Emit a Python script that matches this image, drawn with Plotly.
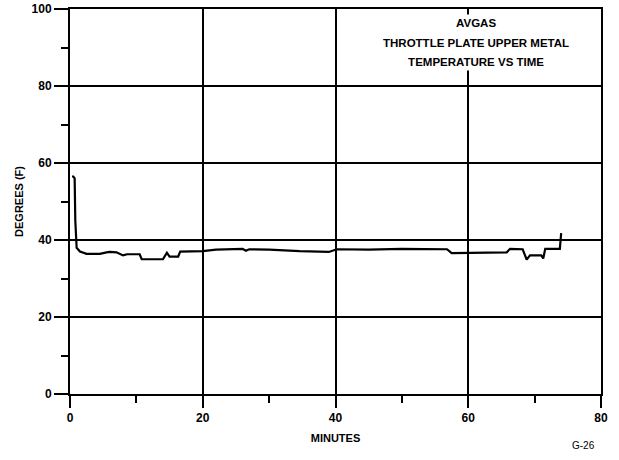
import plotly.graph_objects as go

minutes = [0.3, 0.5, 0.7, 0.8, 1.0, 1.5, 2.5, 4.5, 5.5, 6.0, 7.0, 7.5, 8.0, 8.6, 10.5, 10.8, 14.0, 14.6, 15.0, 16.3, 16.6, 20.0, 22.0, 26.0, 26.5, 27.0, 30.0, 34.6, 39.0, 40.2, 45.0, 50.0, 56.8, 57.5, 60.0, 65.8, 66.3, 68.2, 68.8, 69.3, 71.0, 71.3, 71.6, 73.5, 73.8, 74.0]
degrees = [56.5, 56.5, 56.0, 45.0, 38.0, 37.0, 36.4, 36.4, 36.8, 36.9, 36.8, 36.5, 36.0, 36.3, 36.3, 35.0, 35.0, 36.7, 35.7, 35.7, 37.0, 37.1, 37.5, 37.7, 37.2, 37.6, 37.5, 37.1, 36.9, 37.6, 37.5, 37.7, 37.6, 36.6, 36.7, 36.8, 37.7, 37.6, 34.9, 36.0, 36.0, 35.2, 37.7, 37.7, 37.7, 41.8]

x_ticks = [0, 20, 40, 60, 80]
y_ticks = [0, 20, 40, 60, 80, 100]
title_lines = ["AVGAS", "THROTTLE PLATE UPPER METAL", "TEMPERATURE VS TIME"]

FONT = "Liberation Sans Narrow, Arial Narrow, Liberation Sans, Arial"

fig = go.Figure()
fig.add_trace(go.Scatter(x=minutes, y=degrees, mode="lines",
                         line=dict(color="black", width=2.2), showlegend=False,
                         hoverinfo="skip"))

axis_common = dict(
    showgrid=True, gridcolor="black", gridwidth=1.7,
    showline=True, linecolor="black", linewidth=2, mirror=True,
    ticks="outside", tickcolor="black", tickwidth=1.7,
    zeroline=False, automargin=False,
    tickfont=dict(family=FONT, size=12, color="black", weight="bold"),
)

fig.update_xaxes(range=[0, 80], tickvals=x_ticks, ticklen=12,
                 minor=dict(dtick=10, ticks="outside", ticklen=7, tickcolor="black", tickwidth=1.5, showgrid=False),
                 title=dict(text="MINUTES", font=dict(family=FONT, size=11, color="black", weight="bold"), standoff=10),
                 **axis_common)
fig.update_yaxes(range=[0, 100], tickvals=y_ticks, ticklen=14,
                 minor=dict(dtick=10, ticks="outside", ticklen=7, tickcolor="black", tickwidth=1.5, showgrid=False),
                 title=dict(text="DEGREES (F)", font=dict(family=FONT, size=11, color="black", weight="bold"), standoff=6),
                 **axis_common)

title_text = "<br>".join(f"<span style='font-size:11.5px'>{t}</span>" for t in title_lines)
fig.add_annotation(xref="x", yref="y", x=61.2, y=98.6, xanchor="center", yanchor="top",
                   text=title_text, showarrow=False, bgcolor="white", borderpad=2,
                   font=dict(family=FONT, size=15, color="black", weight="bold"))
fig.add_annotation(xref="paper", yref="paper", x=0.967, y=-0.135, xanchor="center", yanchor="middle",
                   text="G-26", showarrow=False,
                   font=dict(family=FONT, size=10, color="black"))

fig.update_layout(width=619, height=460, margin=dict(l=70, r=18, t=9, b=66),
                  paper_bgcolor="white", plot_bgcolor="white",
                  font=dict(family=FONT, color="black"))

fig.write_html("out.html", config={"displayModeBar": False},
               post_script="document.body.style.margin='0';document.body.style.overflow='hidden';")
